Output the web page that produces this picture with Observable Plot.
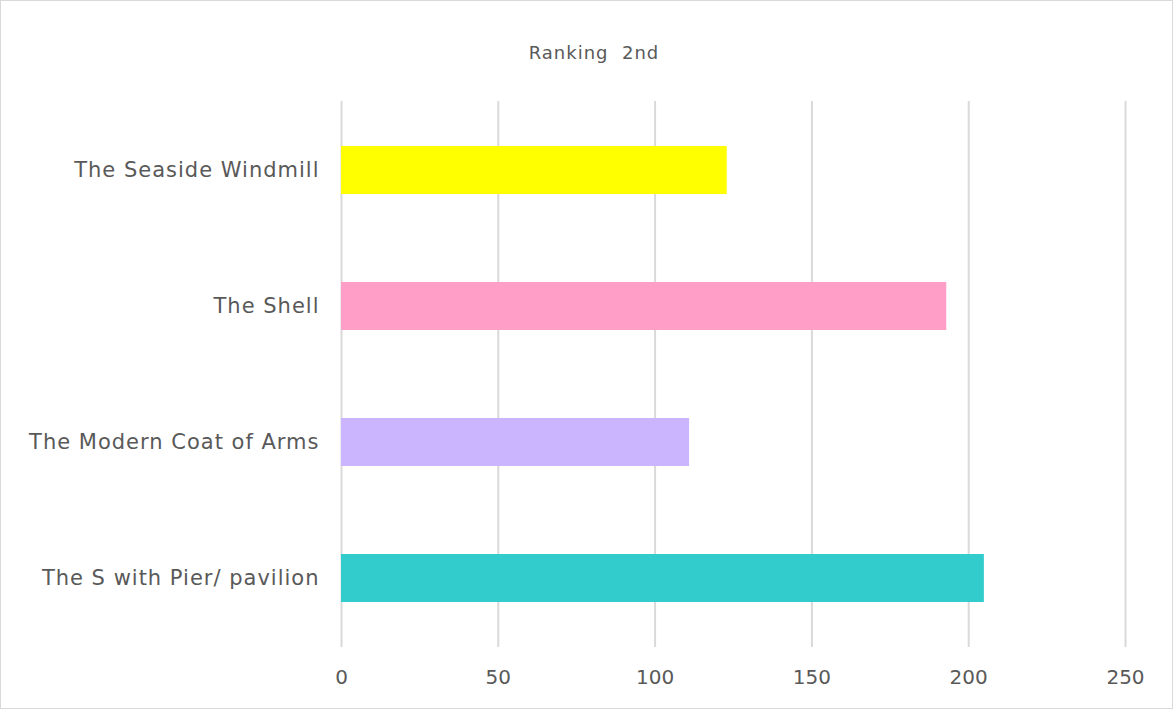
<!DOCTYPE html>
<html>
<head>
<meta charset="utf-8">
<script src="https://cdn.jsdelivr.net/npm/d3@7"></script>
<script src="https://cdn.jsdelivr.net/npm/@observablehq/plot@0.6"></script>
<style>
  html, body { margin: 0; padding: 0; background: #fff; }
  #chart { position: relative; width: 1171px; height: 707px; border: 1px solid #d9d9d9; background: #fff; overflow: hidden; }
  #title { position: absolute; top: 41px; left: 0; width: 1186px; text-align: center; font-family: "DejaVu Sans", sans-serif; font-size: 18px; letter-spacing: 1px; color: #595959; white-space: pre; }
  #plot { position: absolute; top: 0; left: 0; }
  #plot svg g[aria-label="y-axis tick label"] text { letter-spacing: 1px; }
</style>
</head>
<body>
<div id="chart">
  <div id="title">Ranking  2nd</div>
  <div id="plot"></div>
</div>
<script>
const categories = ["The Seaside Windmill", "The Shell", "The Modern Coat of Arms", "The S with Pier/ pavilion"];
const values = [123, 193, 111, 205];
const colors = ["#FFFF00", "#FF9FC8", "#CCB5FF", "#33CCCC"];
const xTicks = [0, 50, 100, 150, 200, 250];

const data = categories.map((c, i) => ({category: c, value: values[i], color: colors[i]}));

const chart = Plot.plot({
  width: 1171,
  height: 707,
  marginTop: 100,
  marginBottom: 61,
  marginLeft: 340,
  marginRight: 47,
  style: {fontFamily: "DejaVu Sans, sans-serif", fontSize: "20px", color: "#595959", background: "transparent"},
  x: {domain: [0, 250], ticks: xTicks, label: null},
  y: {domain: categories, paddingInner: 0.65, paddingOuter: 0.325, label: null},
  marks: [
    Plot.ruleX(xTicks, {stroke: "#d9d9d9", strokeWidth: 2}),
    Plot.barX(data, {x: "value", y: "category", fill: "color"}),
    Plot.axisX({ticks: xTicks, tickSize: 0, tickPadding: 22, fontSize: 20, label: null, fill: "#595959"}),
    Plot.axisY({tickSize: 0, tickPadding: 22, fontSize: 21, label: null, fill: "#595959"})
  ]
});
document.getElementById("plot").appendChild(chart);
</script>
</body>
</html>
